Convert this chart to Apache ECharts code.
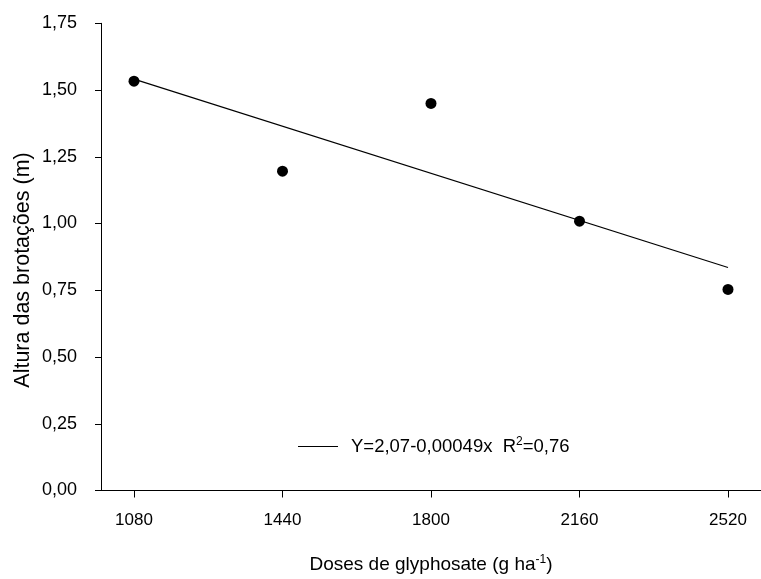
<!DOCTYPE html>
<html><head><meta charset="utf-8">
<script src="https://cdn.jsdelivr.net/npm/echarts@6/dist/echarts.min.js"></script>
<style>html,body{margin:0;padding:0;background:#fff}#c{width:761px;height:579px}</style>
</head><body><div id="c"></div>
<script>
const doses = [1080, 1440, 1800, 2160, 2520];
const altura = [1.533, 1.196, 1.450, 1.009, 0.753];
const xTicks = [1080, 1440, 1800, 2160, 2520];
const yTicks = [0, 0.25, 0.5, 0.75, 1.0, 1.25, 1.5, 1.75];
const fitA = 2.07, fitB = -0.00049;
const fitX = [1080, 2520];
const fitLine = fitX.map(x => [x, fitA + fitB * x]);
const legendText = 'Y=2,07-0,00049x  R{sup|2}=0,76';
const xTitle = 'Doses de glyphosate (g ha{sup|-1})';
const yTitle = 'Altura das brotações (m)';
const font = 'Liberation Sans, Arial, sans-serif';

const chart = echarts.init(document.getElementById('c'), null, {renderer: 'canvas'});
chart.setOption({
  animation: false,
  backgroundColor: '#fff',
  grid: {left: 101, top: 23.3, width: 666, height: 472.4},
  legend: {
    data: [{name: legendText}],
    left: 298, top: 436, padding: 0,
    itemWidth: 40, itemHeight: 1.2, icon: 'rect', itemGap: 13,
    textStyle: {fontFamily: font, fontSize: 18.5, color: '#000', padding: [0, 0, 0, 8],
      rich: {sup: {fontSize: 12, verticalAlign: 'top', padding: [0,0,9,0], fontFamily: font, color: '#000'}}}
  },
  graphic: [{
    type: 'text', x: 23, y: 270, rotation: Math.PI / 2,
    style: {text: yTitle, fill: '#000', font: '21.5px ' + font, align: 'center', verticalAlign: 'middle'}
  }],
  xAxis: {
    type: 'value', min: 1000, max: 2600,
    axisLine: {lineStyle: {color: '#000', width: 1}},
    axisTick: {show: true, length: 7, inside: false, lineStyle: {color: '#000'}, customValues: xTicks},
    axisLabel: {color: '#000', fontFamily: font, fontSize: 17, margin: 21, customValues: xTicks,
      formatter: v => String(v)},
    splitLine: {show: false},
    name: xTitle,
    nameLocation: 'middle', nameGap: 63,
    nameTextStyle: {color: '#000', fontFamily: font, fontSize: 19,
      rich: {sup: {fontSize: 12, verticalAlign: 'top', padding: [0,0,10,0], fontFamily: font, color: '#000'}}}
  },
  yAxis: {
    type: 'value', min: 0, max: 1.75, interval: 0.25,
    axisLine: {show: true, lineStyle: {color: '#000', width: 1}},
    axisTick: {show: true, length: 6, lineStyle: {color: '#000'}},
    axisLabel: {color: '#000', fontFamily: font, fontSize: 18, margin: 24,
      formatter: v => v.toFixed(2).replace('.', ',')},
    splitLine: {show: false}
  },
  series: [
    {type: 'scatter', data: doses.map((d, i) => [d, altura[i]]), symbol: 'circle', symbolSize: 11,
     itemStyle: {color: '#000', opacity: 1}, z: 3},
    {type: 'line', name: legendText, data: fitLine, symbol: 'none',
     lineStyle: {color: '#000', width: 1.2}, itemStyle: {color: '#000'}}
  ]
});
</script></body></html>
